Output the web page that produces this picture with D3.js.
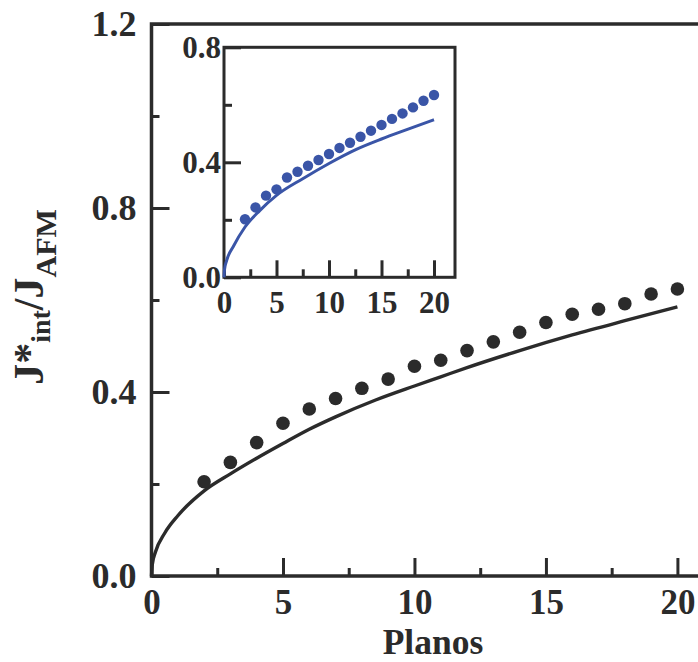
<!DOCTYPE html>
<html>
<head>
<meta charset="utf-8">
<script src="https://cdn.jsdelivr.net/npm/d3@7"></script>
<style>
  html, body { margin: 0; padding: 0; background: #fff; }
  svg { display: block; }
  text { font-family: "Liberation Serif", "Times New Roman", serif; font-weight: bold; fill: #2b2b2b; }
</style>
</head>
<body>
<svg id="chart" width="698" height="662"></svg>
<script>
// Number of planes (x) for the symbol series
const planos = [2, 3, 4, 5, 6, 7, 8, 9, 10, 11, 12, 13, 14, 15, 16, 17, 18, 19, 20];

// Main panel: J*int / JAFM symbols and the continuous curve
const mainDots = [0.205, 0.247, 0.290, 0.332, 0.363, 0.386, 0.408, 0.428, 0.456, 0.469,
                  0.490, 0.509, 0.530, 0.551, 0.569, 0.580, 0.592, 0.613, 0.624];
const mainCurveX = [0, 0.03, 0.15, 0.5, 1, 2, 3, 4, 5, 6, 7, 8.5, 10, 11, 12, 14, 16, 18, 20];
const mainCurveY = [0, 0.025, 0.052, 0.093, 0.131, 0.185, 0.222, 0.256, 0.288, 0.319, 0.346,
                    0.382, 0.413, 0.433, 0.453, 0.490, 0.524, 0.555, 0.585];

// Inset panel: same quantity, blue
const insetDots = [0.202, 0.243, 0.284, 0.306, 0.347, 0.367, 0.388, 0.408, 0.429, 0.450,
                   0.468, 0.489, 0.510, 0.530, 0.551, 0.570, 0.591, 0.614, 0.634];
const insetCurveX = [0, 0.05, 0.25, 0.9, 2, 3.4, 5, 7.5, 10, 12.6, 15, 17.6, 20];
const insetCurveY = [0, 0.027, 0.058, 0.108, 0.175, 0.232, 0.285, 0.343, 0.396, 0.445, 0.481, 0.516, 0.548];

// Ticks
const mainXMajor = [0, 5, 10, 15, 20];
const mainXMinor = [2.5, 7.5, 12.5, 17.5];
const mainYMajor = [0, 0.4, 0.8, 1.2];
const mainYMinor = [0.2, 0.6, 1.0];
const insetXMajor = [0, 5, 10, 15, 20];
const insetXMinor = [2.5, 7.5, 12.5, 17.5];
const insetYMajor = [0, 0.4, 0.8];
const insetYMinor = [0.2, 0.6];

const INK = "#2b2b2b";
const BLUE = "#3a55a7";
const fmt1 = d3.format(".1f");

const svg = d3.select("#chart");

function panel(g, x, y, opt) {
  const [x0, x1] = x.range();
  const [y0, y1] = y.range();
  // ticks (pointing inward)
  const ax = g.append("g").attr("transform", `translate(0,${y0})`)
    .call(d3.axisBottom(x).tickValues(opt.xMajor).tickSize(-opt.major)
      .tickPadding(opt.xPad).tickFormat(d3.format("d")));
  g.append("g").attr("transform", `translate(0,${y0})`)
    .call(d3.axisBottom(x).tickValues(opt.xMinor).tickSize(-opt.minor).tickFormat(""));
  const ay = g.append("g").attr("transform", `translate(${x0},0)`)
    .call(d3.axisLeft(y).tickValues(opt.yMajor).tickSize(-opt.major)
      .tickPadding(opt.yPad).tickFormat(fmt1));
  g.append("g").attr("transform", `translate(${x0},0)`)
    .call(d3.axisLeft(y).tickValues(opt.yMinor).tickSize(-opt.minor).tickFormat(""));
  g.selectAll(".domain").remove();
  g.selectAll(".tick line").attr("stroke", INK).attr("stroke-width", opt.tickW);
  ax.selectAll("text").style("font-size", opt.xFont + "px").attr("fill", INK).attr("dy", "0.71em");
  ay.selectAll("text").style("font-size", opt.yFont + "px").attr("fill", INK);
  // frame
  g.append("rect")
    .attr("x", x0).attr("y", y1)
    .attr("width", x1 - x0).attr("height", y0 - y1)
    .attr("fill", "none").attr("stroke", INK).attr("stroke-width", opt.frameW);
}

// ---- main panel ----
const xMain = d3.scaleLinear().domain([0, 22]).range([151.5, 730]);
const yMain = d3.scaleLinear().domain([0, 1.2]).range([576, 24]);
const gMain = svg.append("g");
panel(gMain, xMain, yMain, {
  xMajor: mainXMajor, xMinor: mainXMinor, yMajor: mainYMajor, yMinor: mainYMinor,
  major: 18, minor: 8, xPad: 13.5, yPad: 15, xFont: 35, yFont: 36, tickW: 3, frameW: 3.5
});

const lineMain = d3.line().x(d => xMain(d[0])).y(d => yMain(d[1])).curve(d3.curveMonotoneX);
gMain.append("path")
  .datum(mainCurveX.map((v, i) => [v, mainCurveY[i]]))
  .attr("d", lineMain).attr("fill", "none").attr("stroke", INK).attr("stroke-width", 3.4);
gMain.selectAll("circle.main").data(planos).join("circle")
  .attr("class", "main")
  .attr("cx", d => xMain(d)).attr("cy", (d, i) => yMain(mainDots[i]))
  .attr("r", 6.8).attr("fill", INK);

// axis titles
svg.append("text").attr("x", 433).attr("y", 654).attr("text-anchor", "middle")
  .style("font-size", "35.5px").text("Planos");

const yTitle = svg.append("text")
  .attr("transform", "translate(43,297) rotate(-90)")
  .attr("text-anchor", "middle")
  .style("font-size", "42px");
yTitle.append("tspan").text("J*");
yTitle.append("tspan").attr("dy", 7).style("font-size", "28px").text("int");
yTitle.append("tspan").attr("dy", -7).text("/J");
yTitle.append("tspan").attr("dy", 13).style("font-size", "30px").text("AFM");

// ---- inset ----
const xIn = d3.scaleLinear().domain([0, 22]).range([224, 455]);
const yIn = d3.scaleLinear().domain([0, 0.8]).range([277.3, 47.3]);
const gIn = svg.append("g");
gIn.append("rect").attr("x", 224).attr("y", 47.3).attr("width", 231).attr("height", 230).attr("fill", "#fff");
panel(gIn, xIn, yIn, {
  xMajor: insetXMajor, xMinor: insetXMinor, yMajor: insetYMajor, yMinor: insetYMinor,
  major: 17, minor: 8, xPad: 14, yPad: 3, xFont: 31, yFont: 31, tickW: 3, frameW: 3
});
const lineIn = d3.line().x(d => xIn(d[0])).y(d => yIn(d[1])).curve(d3.curveMonotoneX);
gIn.append("path")
  .datum(insetCurveX.map((v, i) => [v, insetCurveY[i]]))
  .attr("d", lineIn).attr("fill", "none").attr("stroke", BLUE).attr("stroke-width", 3);
gIn.selectAll("circle.ins").data(planos).join("circle")
  .attr("class", "ins")
  .attr("cx", d => xIn(d)).attr("cy", (d, i) => yIn(insetDots[i]))
  .attr("r", 5.2).attr("fill", BLUE);
</script>
</body>
</html>
